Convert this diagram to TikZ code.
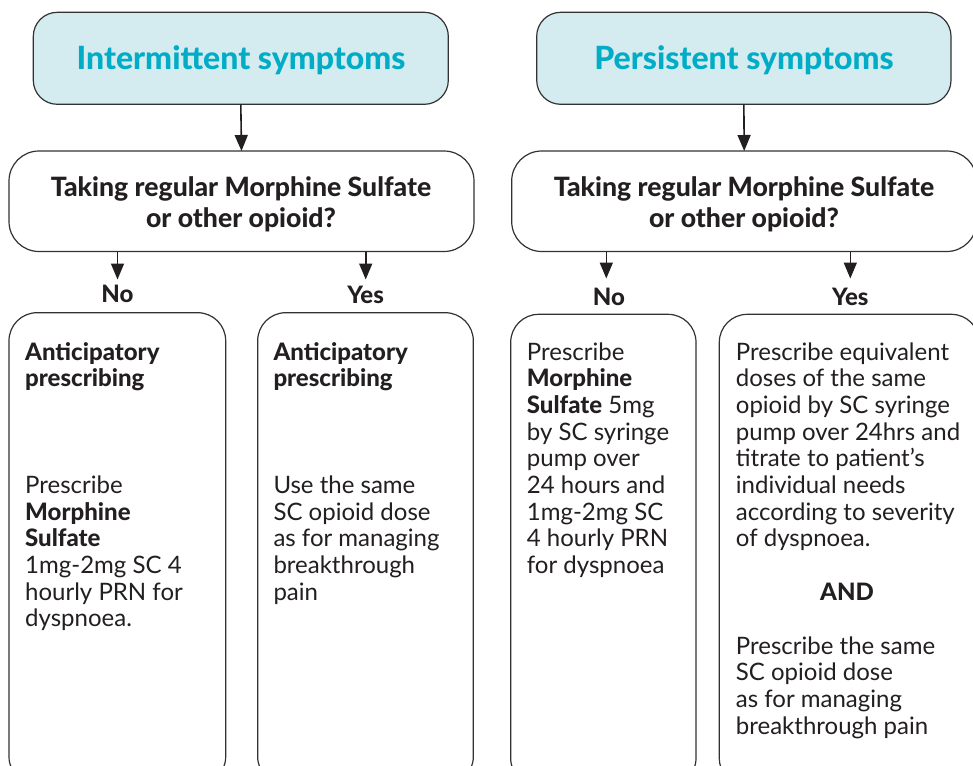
\documentclass[tikz,border=0pt]{standalone}
\usepackage{fontspec}
\setmainfont{Lato}[BoldFont={Lato Heavy}]
\usetikzlibrary{arrows.meta}
\definecolor{titlefill}{RGB}{212,235,240}
\definecolor{titletext}{RGB}{0,172,198}
\definecolor{inkc}{RGB}{35,31,32}
\definecolor{linec}{RGB}{50,50,50}
\tikzset{
  boxbase/.style={draw=linec, line width=1.2pt, rectangle, anchor=north west, inner sep=0pt, outer sep=0pt},
  titlebox/.style={boxbase, fill=titlefill, rounded corners=24pt},
  qbox/.style={boxbase, fill=white, rounded corners=30pt},
  optbox/.style={boxbase, fill=white, rounded corners=28pt},
  titletxt/.style={anchor=base, inner sep=0pt, text=titletext, font=\fontsize{32}{36}\selectfont\bfseries},
  qtxt/.style={anchor=north, inner sep=0pt, align=center, text=inkc, font=\fontsize{26.6}{31.7}\selectfont\bfseries},
  labtxt/.style={anchor=base, inner sep=0pt, text=inkc, font=\fontsize{24}{26}\selectfont\bfseries},
  bodytxt/.style={anchor=north west, inner sep=0pt, align=left, text=inkc, font=\fontsize{24}{26.65}\selectfont},
  arr/.style={draw=inkc, line width=1.6pt, -{Triangle[width=13pt,length=16pt]}},
}
\newcommand{\firstrule}{\rule{0pt}{20pt}}
\begin{document}
\begin{tikzpicture}[x=1pt,y=-1pt]
\useasboundingbox (0,0) rectangle (973,765);
\clip (0,0) rectangle (973,765);
% title boxes
\node[titlebox, minimum width=415pt, minimum height=92pt] (tL) at (33.3,12.3) {};
\node[titlebox, minimum width=414.3pt, minimum height=92pt] (tR) at (536.7,12.3) {};
\node[titletxt] (tLt) at (241,70) {Intermittent symptoms};
\node[titletxt] (tRt) at (744,70) {Persistent symptoms};
% question boxes
\node[qbox, minimum width=465pt, minimum height=100.5pt] (qL) at (9,151) {};
\node[qbox, minimum width=465pt, minimum height=100.5pt] (qR) at (511.7,151) {};
\node[qtxt] (qLt) at (241,171) {\rule{0pt}{25pt}Taking regular Morphine Sulfate\\or other opioid?};
\node[qtxt] (qRt) at (744,171) {\rule{0pt}{25pt}Taking regular Morphine Sulfate\\or other opioid?};
% arrows from titles
\draw[arr] (tL.south) -- (qL.north);
\draw[arr] (tR.south) -- (qR.north);
% labels
\node[labtxt] (noL) at (117.5,302) {No};
\node[labtxt] (yesL) at (365.7,303) {Yes};
\node[labtxt] (noR) at (609,305) {No};
\node[labtxt] (yesR) at (850.3,305) {Yes};
\coordinate (noLa) at (117.5,279.5);
\coordinate (yesLa) at (365.7,279.5);
\coordinate (noRa) at (606.3,278.5);
\coordinate (yesRa) at (850.3,278.5);
\draw[arr] (qL.south -| noLa) -- (noLa);
\draw[arr] (qL.south -| yesLa) -- (yesLa);
\draw[arr] (qR.south -| noRa) -- (noRa);
\draw[arr] (qR.south -| yesRa) -- (yesRa);
% option boxes
\node[optbox, minimum width=216.7pt, minimum height=472pt] (oLN) at (9,312.7) {};
\node[optbox, minimum width=215.6pt, minimum height=472pt] (oLY) at (257.7,312.7) {};
\node[optbox, minimum width=185.3pt, minimum height=472pt] (oRN) at (510.7,314.3) {};
\node[optbox, minimum width=260pt, minimum height=472pt] (oRY) at (719.3,314.3) {};
% texts in option boxes
\node[bodytxt] (oLNh) at (25,340) {\firstrule\textbf{Anticipatory}\\\textbf{prescribing}};
\node[bodytxt] (oLNb) at (25,473.3) {\firstrule Prescribe\\\textbf{Morphine}\\\textbf{Sulfate}\\1mg-2mg SC 4\\hourly PRN for\\dyspnoea.};
\node[bodytxt] (oLYh) at (273.3,340) {\firstrule\textbf{Anticipatory}\\\textbf{prescribing}};
\node[bodytxt] (oLYb) at (273.3,473.3) {\firstrule Use the same\\SC opioid dose\\as for managing\\breakthrough\\pain};
\node[bodytxt] (oRNb) at (526.7,340) {\firstrule Prescribe\\\textbf{Morphine}\\\textbf{Sulfate} 5mg\\by SC syringe\\pump over\\24 hours and\\1mg-2mg SC\\4 hourly PRN\\for dyspnoea};
\node[bodytxt] (oRYb) at (735.7,340) {\firstrule Prescribe equivalent\\doses of the same\\opioid by SC syringe\\pump over 24hrs and\\titrate to patient’s\\individual needs\\according to severity\\of dyspnoea.};
\node[labtxt] (and) at (847,600) {AND};
\node[bodytxt] (oRYc) at (735.7,634) {\firstrule Prescribe the same\\SC opioid dose\\as for managing\\breakthrough pain};
\end{tikzpicture}
\end{document}
